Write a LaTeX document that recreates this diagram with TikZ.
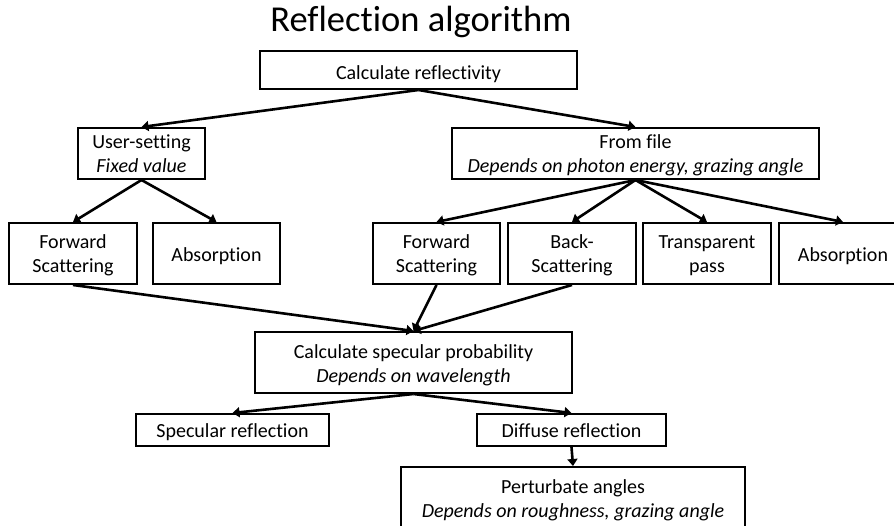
\documentclass[tikz,border=0pt]{standalone}
\usepackage{fontspec}
\setmainfont{Carlito}[Ligatures={TeX,NoCommon}]
\usetikzlibrary{arrows.meta}
\newcommand\dualtext[2]{\rule{0pt}{20pt}#1\\#2\rule[-5pt]{0pt}{5pt}}
\begin{document}
\begin{tikzpicture}[x=1pt,y=-1pt,
  box/.style={draw=black, line width=2pt, inner sep=0pt, align=center,
              font=\fontsize{20}{24}\selectfont},
  one/.style={text height=17pt, text depth=0pt},
  arr/.style={line width=2.6pt, -{Triangle[length=7pt,width=10pt]}}
]
\useasboundingbox (0,0) rectangle (894,526);

\node[font=\fontsize{36.5}{40}\selectfont, anchor=base] (title) at (421,32) {Reflection algorithm};

\node[box, one, text height=20pt, minimum width=317pt, minimum height=38pt] (calc) at (418.5,70) {Calculate reflectivity};

\node[box, minimum width=127pt, minimum height=51pt] (user) at (141.5,153.5) {\dualtext{User-setting}{\textit{Fixed value}}};
\node[box, minimum width=367pt, minimum height=51pt] (file) at (635.5,153.5) {\dualtext{From file}{\textit{Depends on photon energy, grazing angle}}};

\node[box, minimum width=128pt, minimum height=61pt] (fwdL) at (73,253.5) {\dualtext{Forward}{Scattering}};
\node[box, one, minimum width=127pt, minimum height=61pt] (absL) at (216.5,253.5) {Absorption};
\node[box, minimum width=127pt, minimum height=61pt] (fwdR) at (436.5,253.5) {\dualtext{Forward}{Scattering}};
\node[box, minimum width=128pt, minimum height=61pt] (back) at (572,253.5) {\dualtext{Back-}{Scattering}};
\node[box, minimum width=128pt, minimum height=61pt] (trans) at (707,253.5) {\dualtext{Transparent}{pass}};
\node[box, one, minimum width=128pt, minimum height=61pt] (absR) at (843,253.5) {Absorption};

\node[box, minimum width=317pt, minimum height=61pt] (spec) at (413.5,362.5) {\dualtext{Calculate specular probability}{\textit{Depends on wavelength}}};

\node[box, one, text height=14pt, minimum width=193pt, minimum height=32pt] (specR) at (232.5,430) {Specular reflection};
\node[box, one, text height=14pt, minimum width=189pt, minimum height=32pt] (diff) at (571.5,430) {Diffuse reflection};

\node[box, minimum width=344pt, minimum height=61pt] (pert) at (573,497.5) {\dualtext{Perturbate angles}{\textit{Depends on roughness, grazing angle}}};

\draw[arr] (calc.south) -- (user.north);
\draw[arr] (calc.south) -- (file.north);
\draw[arr] (user.south) -- (fwdL.north);
\draw[arr] (user.south) -- (absL.north);
\draw[arr] (file.south) -- (fwdR.north);
\draw[arr] (file.south) -- (back.north);
\draw[arr] (file.south) -- (trans.north);
\draw[arr] (file.south) -- (absR.north);
\draw[arr] (fwdL.south) -- (spec.north);
\draw[arr] (fwdR.south) -- (spec.north);
\draw[arr] (back.south) -- (spec.north);
\draw[arr] (spec.south) -- (specR.north);
\draw[arr] (spec.south) -- (diff.north);
\draw[arr] (diff.south) -- (pert.north);
\end{tikzpicture}
\end{document}
